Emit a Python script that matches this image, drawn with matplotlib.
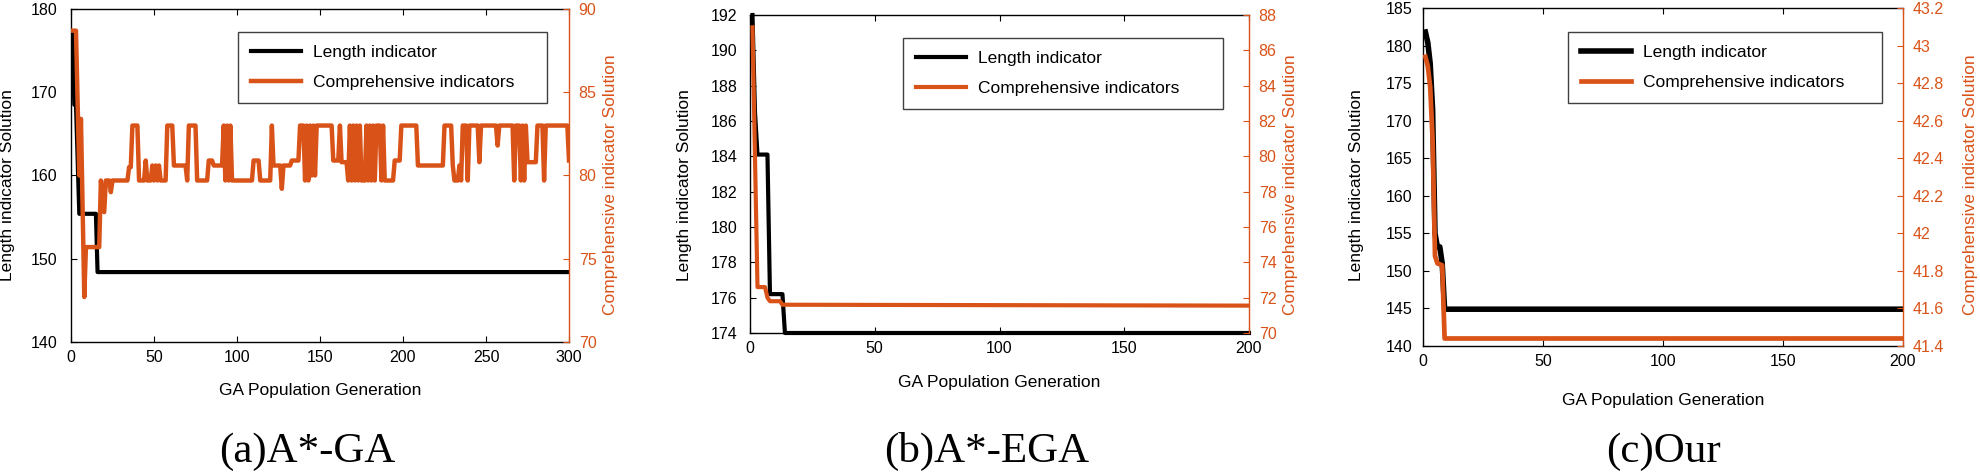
import matplotlib
matplotlib.use('Agg')
import matplotlib.pyplot as plt
from matplotlib.ticker import FuncFormatter

plt.rcParams['font.family'] = ['Liberation Sans', 'DejaVu Sans']

ORANGE = '#D95319'
W, H = 1981, 472

# ---- data (generation, value) ----
# (a) A*-GA
a_len = [(1, 177.0), (2, 168.5), (3, 168.5), (5, 155.4), (15, 155.4), (16, 148.4), (300, 148.4)]
a_comp = [
    (1, 88.7), (3, 88.7), (5, 80.0), (6, 83.4), (8, 72.7), (9, 75.7), (17, 75.7), (18, 79.7),
    (20, 77.8), (21, 79.7), (23, 79.7), (24, 79.0), (25, 79.7), (34, 79.7), (35, 80.5), (36, 80.5),
    (37, 83.0), (40, 83.0), (41, 79.7), (44, 79.7), (45, 80.9), (46, 79.7), (48, 79.7), (49, 80.6),
    (50, 79.7), (51, 80.6), (52, 79.7), (53, 80.6), (54, 79.7), (57, 79.7), (58, 83.0), (61, 83.0),
    (62, 80.6), (69, 80.6), (70, 79.7), (71, 83.0), (75, 83.0), (76, 79.7), (82, 79.7), (83, 80.9),
    (85, 80.9), (86, 80.6), (91, 80.6), (92, 83.0), (93, 79.7), (94, 83.0), (95, 79.7), (96, 83.0),
    (97, 79.7), (109, 79.7), (110, 80.9), (113, 80.9), (114, 79.7), (120, 79.7), (121, 83.0),
    (122, 80.6), (126, 80.6), (127, 79.2), (128, 80.6), (132, 80.6), (133, 80.9), (137, 80.9),
    (138, 83.0), (140, 83.0), (141, 79.7), (142, 83.0), (143, 79.7), (144, 83.0), (145, 80.0),
    (146, 83.0), (147, 80.0), (148, 83.0), (157, 83.0), (158, 80.9), (161, 80.9), (162, 83.0),
    (163, 80.8), (166, 80.8), (167, 79.7), (168, 83.0), (169, 79.7), (170, 83.0), (171, 79.7),
    (172, 83.0), (173, 79.7), (174, 83.0), (175, 79.7), (177, 79.7), (178, 83.0), (179, 79.7),
    (180, 83.0), (181, 79.7), (182, 83.0), (183, 79.7), (184, 83.0), (186, 83.0), (187, 79.7),
    (188, 83.0), (189, 79.7), (194, 79.7), (195, 80.9), (198, 80.9), (199, 83.0), (208, 83.0),
    (209, 80.6), (224, 80.6), (225, 83.0), (229, 83.0), (230, 80.6), (231, 79.7), (233, 79.7),
    (234, 80.6), (235, 79.7), (236, 83.0), (238, 83.0), (239, 79.7), (240, 83.0), (245, 83.0),
    (246, 80.8), (247, 83.0), (256, 83.0), (257, 81.8), (258, 83.0), (266, 83.0), (267, 79.7),
    (268, 83.0), (270, 83.0), (271, 79.7), (272, 83.0), (273, 79.7), (274, 83.0), (275, 80.8),
    (280, 80.8), (281, 83.0), (284, 83.0), (285, 79.7), (286, 83.0), (299, 83.0), (300, 80.9),
]

# (b) A*-EGA
b_len = [(1, 192.0), (2, 186.5), (3, 184.1), (7, 184.1), (8, 176.2), (13, 176.2), (14, 174.0), (200, 174.0)]
b_comp = [(1, 87.3), (3, 72.6), (6, 72.6), (7, 72.0), (8, 71.8), (12, 71.8), (13, 71.6), (200, 71.55)]

# (c) Our
c_len = [(1, 181.8), (2, 180.4), (3, 177.6), (4, 171.5), (5, 155.0), (6, 153.2), (7, 153.2),
         (8, 151.0), (9, 144.9), (200, 144.9)]
c_comp = [(1, 42.94), (2, 42.89), (3, 42.78), (4, 42.5), (5, 41.88), (6, 41.84), (8, 41.83),
          (9, 41.44), (200, 41.44)]

captions = ['(a)A*-GA', '(b)A*-EGA', '(c)Our']
legend_labels = ['Length indicator', 'Comprehensive indicators']

# layout per panel: axes box in pixels (left, top, right, bottom) and label positions
panels = [
    dict(len=a_len, comp=a_comp, box=(71, 9, 569, 342), xmax=300, xstep=50,
         ylim=(140, 180), ystep=10, ylim2=(70, 90), ystep2=5, lw=(3.0, 3.2),
         legend=(238, 32, 547, 93), xlab_y=390, ylab_x=8, ylab2_x=610, cap_x=307, ypad=9.5),
    dict(len=b_len, comp=b_comp, box=(750, 15, 1249, 333), xmax=200, xstep=50,
         ylim=(174, 192), ystep=2, ylim2=(70, 88), ystep2=2, lw=(3.0, 3.0),
         legend=(903, 38, 1223, 102), xlab_y=382, ylab_x=685, ylab2_x=1290, cap_x=987, ypad=9),
    dict(len=c_len, comp=c_comp, box=(1423, 8, 1903, 346), xmax=200, xstep=50,
         ylim=(140, 185), ystep=5, ylim2=(41.4, 43.2), ystep2=0.2, lw=(4.0, 3.4),
         legend=(1568, 32, 1882, 94), xlab_y=400, ylab_x=1357, ylab2_x=1971, cap_x=1663, ypad=7.5),
]

fig = plt.figure(figsize=(W / 100, H / 100), dpi=100)
fmt = FuncFormatter(lambda v, p: f'{v:g}')

for i, p in enumerate(panels):
    l, t, r, b = p['box']
    pw, ph = r - l, b - t
    ax = fig.add_axes([l / W, 1 - b / H, pw / W, ph / H])
    ax2 = ax.twinx()

    lx, ly = zip(*p['len'])
    cx, cy = zip(*p['comp'])
    h1, = ax.plot(lx, ly, color='black', lw=p['lw'][0], clip_on=(i != 1))
    h2, = ax2.plot(cx, cy, color=ORANGE, lw=p['lw'][1])

    ax.set_xlim(0, p['xmax'])
    ax.set_xticks([v * p['xstep'] for v in range(int(p['xmax'] / p['xstep']) + 1)])
    ax.set_ylim(*p['ylim'])
    n1 = int(round((p['ylim'][1] - p['ylim'][0]) / p['ystep']))
    ax.set_yticks([p['ylim'][0] + k * p['ystep'] for k in range(n1 + 1)])
    ax2.set_ylim(*p['ylim2'])
    n2 = int(round((p['ylim2'][1] - p['ylim2'][0]) / p['ystep2']))
    ax2.set_yticks([p['ylim2'][0] + k * p['ystep2'] for k in range(n2 + 1)])
    ax.yaxis.set_major_formatter(fmt)
    ax2.yaxis.set_major_formatter(fmt)

    ax.tick_params(axis='x', direction='in', length=4, width=0.8, labelsize=11.5, pad=6, top=True)
    ax.tick_params(axis='y', direction='in', length=4, width=0.8, labelsize=11.5, pad=p['ypad'],
                   right=False)
    ax2.tick_params(axis='y', direction='in', length=4, width=0.8, labelsize=11.5, pad=7,
                    colors=ORANGE)
    for s in ['left', 'top', 'bottom']:
        ax.spines[s].set_linewidth(1.0)
        ax2.spines[s].set_visible(False)
    ax.spines['right'].set_visible(False)
    ax2.spines['right'].set_color(ORANGE)
    ax2.spines['right'].set_linewidth(1.0)

    ax.set_xlabel('GA Population Generation', fontsize=12.5)
    ax.xaxis.label.set_va('center')
    ax.xaxis.set_label_coords(0.5, (b - p['xlab_y']) / ph)
    ax.set_ylabel('Length indicator Solution', fontsize=12.5)
    ax.yaxis.label.set_va('center')
    ax.yaxis.set_label_coords((p['ylab_x'] - l) / pw, (b - 185) / ph)
    ax2.set_ylabel('Comprehensive indicator Solution', fontsize=12.5, color=ORANGE)
    ax2.yaxis.label.set_va('center')
    ax2.yaxis.set_label_coords((p['ylab2_x'] - l) / pw, (b - 185) / ph)

    gl, gt, gr, gb = p['legend']
    ax2.legend([h1, h2], legend_labels, loc='upper left', mode='expand',
               bbox_to_anchor=((gl - l) / pw, (b - gb) / ph, (gr - gl) / pw, (gb - gt) / ph),
               borderaxespad=0, fontsize=12.5, handlelength=2.9, handletextpad=0.65,
               labelspacing=0.85, borderpad=0.75, fancybox=False, framealpha=1,
               edgecolor='0.25')
    ax2.get_legend().get_frame().set_linewidth(1.0)

    fig.text(p['cap_x'] / W, 1 - 462 / H, captions[i], ha='center', va='baseline',
             fontsize=31, family='Liberation Serif')

fig.savefig('out.png', dpi=100)
